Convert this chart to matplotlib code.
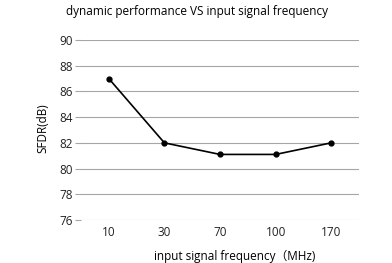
import matplotlib
matplotlib.use('Agg')
import matplotlib.pyplot as plt

# Data
categories = ['10', '30', '70', '100', '170']
sfdr = [87, 82, 81.1, 81.1, 82]
y_ticks = [76, 78, 80, 82, 84, 86, 88, 90]

plt.rcParams['font.family'] = ['Open Sans', 'Noto Sans CJK SC', 'DejaVu Sans']
plt.rcParams['font.size'] = 8.5


def plot_sfdr():
    fig = plt.figure(figsize=(3.92, 2.63), dpi=100)
    ax = fig.add_axes([81 / 392, 1 - 220 / 263, 278 / 392, 180 / 263])

    x = list(range(len(categories)))
    ax.plot(x, sfdr, color='black', linewidth=1.2, marker='o', markersize=3.5)

    ax.set_xlim(-0.5, len(categories) - 0.5)
    ax.set_ylim(76, 90)
    ax.set_xticks(x)
    ax.set_xticklabels(categories)
    ax.set_yticks(y_ticks)
    ax.yaxis.grid(True, color='#a6a6a6', linewidth=0.8)
    ax.set_axisbelow(True)
    for s in ax.spines.values():
        s.set_visible(False)
    ax.tick_params(axis='x', length=0, pad=4, labelcolor='#222222')
    ax.tick_params(axis='y', length=4, width=0.8, color='#a6a6a6', pad=2,
                   labelcolor='#222222')

    ax.set_xlabel('input signal frequency（MHz)')
    ax.xaxis.set_label_coords(0.554, -30 / 180)
    ax.set_ylabel('SFDR(dB)')
    ax.yaxis.set_label_coords(-0.115, 0.51)
    fig.text(197 / 392, 1 - 12 / 263, 'dynamic performance VS input signal frequency',
             ha='center', va='center', fontsize=8.5)

    fig.savefig('out.png', dpi=100)


if __name__ == '__main__':
    plot_sfdr()
